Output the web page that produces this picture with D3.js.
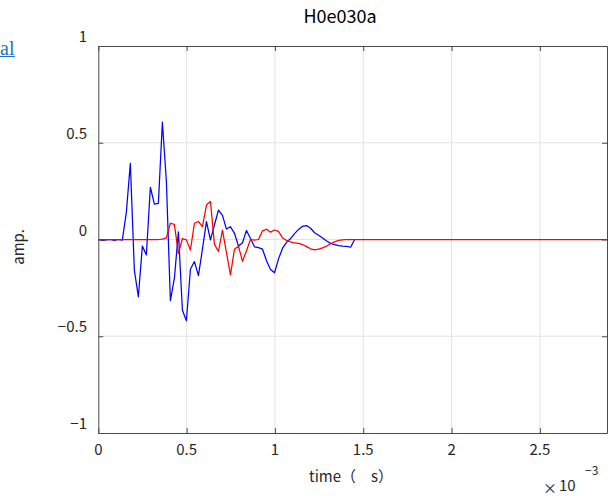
<!DOCTYPE html>
<html>
<head>
<meta charset="utf-8">
<script src="https://cdn.jsdelivr.net/npm/d3@7"></script>
<style>
  html, body { margin: 0; padding: 0; background: #fff; }
  svg { display: block; }
</style>
</head>
<body>
<svg id="chart" width="613" height="496"></svg>
<script>
// ---- data ----
const title = "H0e030a";
const xLabel = "time（　s）";
const yLabel = "amp.";
const sampleRate = 44100;      // samples per second
const xMax = 2.88e-3;          // end of the time axis (s)
const xTicks = [0, 0.5e-3, 1e-3, 1.5e-3, 2e-3, 2.5e-3];
const xTickLabels = ["0", "0.5", "1", "1.5", "2", "2.5"];
const yTicks = [-1, -0.5, 0, 0.5, 1];
const yTickLabels = ["\u22121", "\u22120.5", "0", "0.5", "1"];

const blueValues = [
  0, -0.004, -0.002, 0.0, -0.005, 0.0, -0.003, 0.14, 0.394, -0.158,
  -0.296, -0.034, -0.08, 0.27, 0.183, 0.187, 0.606, 0.3, -0.316, -0.2,
  0.04, -0.366, -0.42, -0.154, -0.114, -0.187, -0.05, 0.092, -0.002, 0.075,
  0.152, 0.125, 0.054, 0.066, 0.032, -0.034, -0.017, 0.047, 0.005, -0.038,
  -0.042, -0.05, -0.11, -0.155, -0.172, -0.1, -0.045, -0.015, 0.005, 0.03,
  0.052, 0.068, 0.072, 0.058, 0.035, 0.022, 0.008, -0.008, -0.02, -0.027,
  -0.032, -0.034, -0.035, -0.04, 0
];
const redValues = [
  0, 0, 0, 0, 0, 0, 0, 0, 0, 0,
  0, 0, 0, 0, 0, 0, 0.002, 0.008, 0.084, 0.078,
  -0.073, 0.005, -0.002, -0.055, 0.084, 0.093, 0.066, 0.178, 0.197, -0.025,
  -0.062, 0.049, -0.068, -0.183, -0.05, -0.035, -0.113, -0.058, 0.0, -0.003,
  0.0, 0.045, 0.053, 0.038, 0.049, 0.042, 0.008, -0.005, -0.012, -0.018,
  -0.02, -0.026, -0.037, -0.048, -0.054, -0.05, -0.043, -0.034, -0.022, -0.012,
  -0.005, -0.002, 0
];

// ---- layout ----
const svg = d3.select("#chart");
const L = 98.3, R = 607, T = 46, B = 433;
const font = "'Noto Sans CJK JP', 'Noto Sans', sans-serif";

const x = d3.scaleLinear().domain([0, xMax]).range([L, R]);
const y = d3.scaleLinear().domain([-1, 1]).range([B, T]);

// grid
const grid = svg.append("g");
grid.selectAll("line.gx").data(xTicks.slice(1)).join("line")
  .attr("x1", d => x(d)).attr("x2", d => x(d)).attr("y1", T).attr("y2", B)
  .attr("stroke", "#e3e3e3").attr("stroke-width", 1);
grid.selectAll("line.gy").data(yTicks.slice(1, -1)).join("line")
  .attr("x1", L).attr("x2", R).attr("y1", d => y(d)).attr("y2", d => y(d))
  .attr("stroke", "#e3e3e3").attr("stroke-width", 1);

// series
function toPoints(vals, extendToEnd) {
  const pts = vals.map((v, i) => [i / sampleRate, v]);
  if (extendToEnd) pts.push([xMax, 0]);
  return pts;
}
const line = d3.line().x(d => x(d[0])).y(d => y(d[1]));
svg.append("clipPath").attr("id", "clip").append("rect")
  .attr("x", L).attr("y", T).attr("width", R - L).attr("height", B - T);
const plot = svg.append("g").attr("clip-path", "url(#clip)");
plot.append("path").attr("d", line(toPoints(blueValues, false)))
  .attr("fill", "none").attr("stroke", "#0000ff").attr("stroke-width", 1.25)
  .attr("stroke-linejoin", "round");
plot.append("path").attr("d", line(toPoints(redValues, true)))
  .attr("fill", "none").attr("stroke", "#ff0000").attr("stroke-width", 1.25)
  .attr("stroke-linejoin", "round");

// axes (box with inward ticks)
const axisColor = "#4a4a4a";
const tickLen = 5;
const xAxisB = d3.axisBottom(x).tickValues(xTicks).tickSizeInner(-tickLen).tickSizeOuter(0).tickFormat("");
const xAxisT = d3.axisTop(x).tickValues(xTicks).tickSizeInner(-tickLen).tickSizeOuter(0).tickFormat("");
const yAxisL = d3.axisLeft(y).tickValues(yTicks).tickSizeInner(-tickLen).tickSizeOuter(0).tickFormat("");
const yAxisR = d3.axisRight(y).tickValues(yTicks).tickSizeInner(-tickLen).tickSizeOuter(0).tickFormat("");
[[xAxisB, `translate(0,${B})`], [xAxisT, `translate(0,${T})`],
 [yAxisL, `translate(${L},0)`], [yAxisR, `translate(${R},0)`]].forEach(([ax, tr]) => {
  const g = svg.append("g").attr("transform", tr).call(ax);
  g.selectAll("path, line").attr("stroke", axisColor).attr("stroke-width", 1);
});

// tick labels
svg.append("g").selectAll("text").data(xTicks).join("text")
  .attr("x", d => x(d)).attr("y", B + 22)
  .attr("text-anchor", "middle").attr("font-family", font).attr("font-size", 15)
  .attr("fill", "#262626")
  .text((d, i) => xTickLabels[i]);
svg.append("g").selectAll("text").data(yTicks).join("text")
  .attr("x", 87).attr("y", d => y(d) - 4)
  .attr("text-anchor", "end").attr("font-family", font).attr("font-size", 15)
  .attr("fill", "#262626")
  .text((d, i) => yTickLabels[i]);

// title and axis labels
svg.append("text").attr("x", 340).attr("y", 23).attr("text-anchor", "middle")
  .attr("font-family", font).attr("font-size", 18).attr("fill", "#000").text(title);
svg.append("text").attr("x", 351).attr("y", 482).attr("text-anchor", "middle")
  .attr("font-family", font).attr("font-size", 15).attr("fill", "#262626").text(xLabel);
svg.append("text").attr("transform", "translate(24,247) rotate(-90)").attr("text-anchor", "middle")
  .attr("font-family", font).attr("font-size", 15).attr("fill", "#262626").text(yLabel);

// exponent
svg.append("text").attr("x", 550).attr("y", 493).attr("text-anchor", "middle")
  .attr("font-family", font).attr("font-size", 14).attr("fill", "#262626").text("×");
svg.append("text").attr("x", 559).attr("y", 491)
  .attr("font-family", font).attr("font-size", 15).attr("fill", "#262626").text("10");
svg.append("text").attr("x", 585).attr("y", 475)
  .attr("font-family", font).attr("font-size", 12).attr("fill", "#262626").text("\u22123");

// stray link text at top-left
svg.append("text").attr("x", 0).attr("y", 55)
  .attr("font-family", "'Liberation Serif', serif").attr("font-size", 20)
  .attr("fill", "#1f6fcf").text("al");
svg.append("line").attr("x1", 0).attr("x2", 15).attr("y1", 56.5).attr("y2", 56.5)
  .attr("stroke", "#1f6fcf").attr("stroke-width", 1);
</script>
</body>
</html>
